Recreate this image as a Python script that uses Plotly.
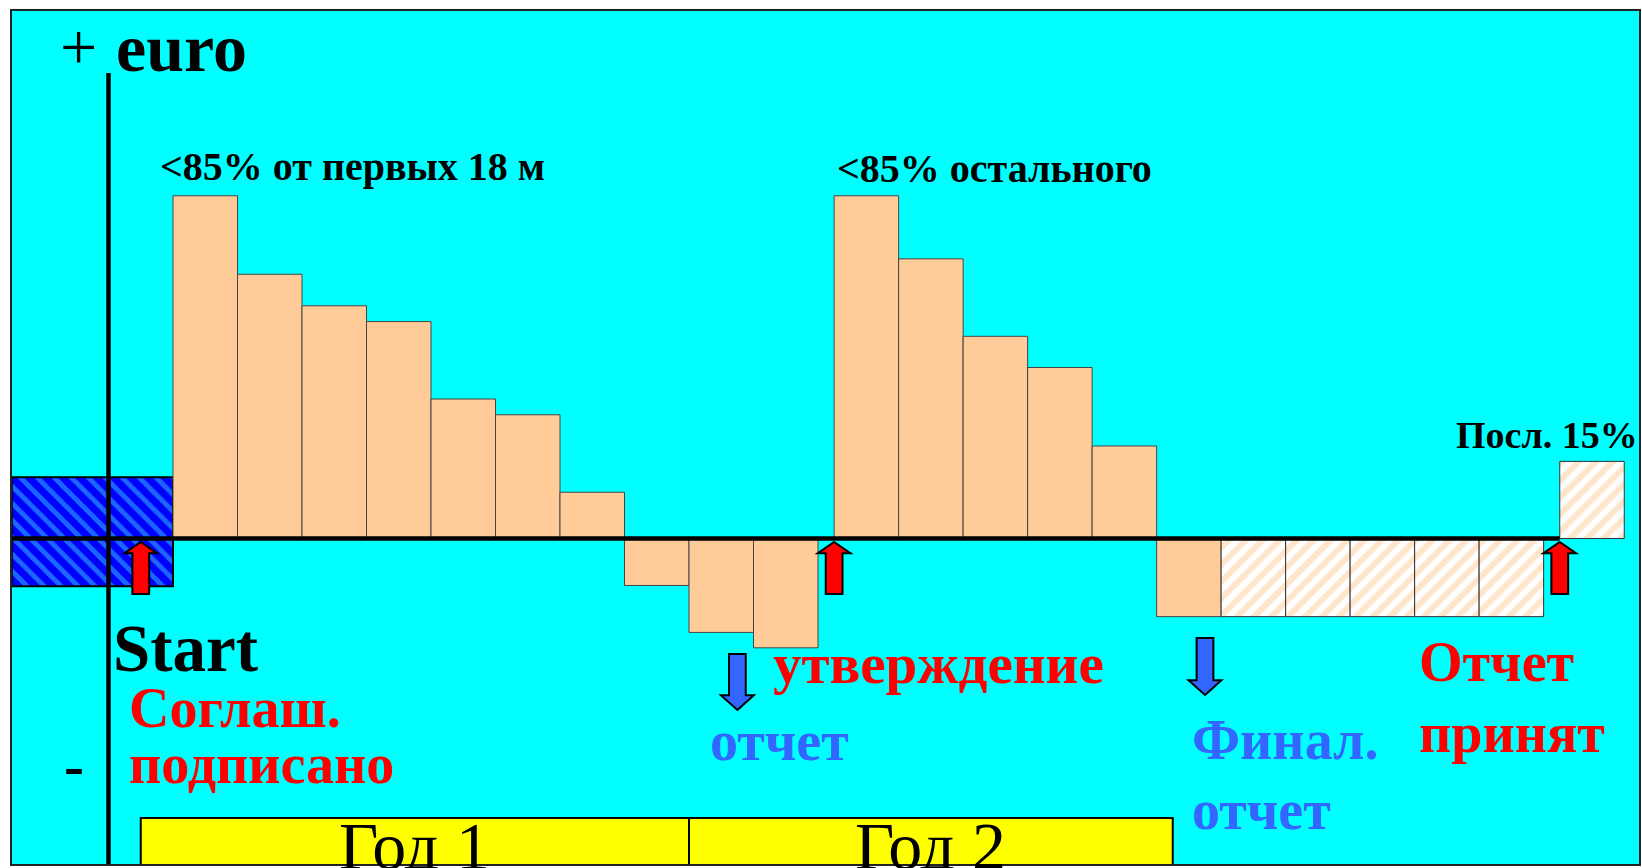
import plotly.graph_objects as go

# ---------------- data (values in relative euro units, 100 = largest payment) ----------------
PREFINANCE = [17.9, -13.9]                      # pre-financing block around "Start"
PHASE1 = [100, 77.1, 67.9, 63.3, 40.7, 36.1, 13.5, -13.7, -27.4, -31.9]   # first 10 periods
PHASE2 = [100, 81.6, 59.0, 49.9, 27.0, -22.8]   # after approval
PHASE2_FORECAST = [-22.8, -22.8, -22.8, -22.8, -22.8]   # hatched (forecast) periods
FINAL = [22.5]                                  # last 15 %
YEARS = ["Год 1", "Год 2"]

# ---------------- geometry of the slide ----------------
W, H = 1642, 868
PL, PR, PT, PB = 11, 1640, 10, 865          # plot-area box in pixels
UNIT = 64.5                                  # px per period
BAR0_LEFT = 173                              # px of left edge of first bar
ZERO_PX = 538.5
YPX = 3.427                                  # px per value unit
GAP = 0.25

X0 = -0.5 - (BAR0_LEFT - PL) / UNIT
X1 = X0 + (PR - PL) / UNIT
Y1 = (ZERO_PX - PT) / YPX
Y0 = -(PB - ZERO_PX) / YPX


def dx(px):
    return X0 + (px - PL) / UNIT


def dy(py):
    return (ZERO_PX - py) / YPX


# x positions
x_phase1 = list(range(len(PHASE1)))
start2 = len(PHASE1) - 0.5 + GAP + 0.5
x_phase2 = [start2 + i for i in range(len(PHASE2))]
x_fore = [x_phase2[-1] + 1 + i for i in range(len(PHASE2_FORECAST))]
x_final = [x_fore[-1] + 1 + GAP]
x_pre = [-1.75, -1.75]

PEACH = "#FFCC99"
fig = go.Figure()

fig.add_trace(go.Bar(
    x=x_pre, y=PREFINANCE, width=2.5,
    marker=dict(color="#0000FF", line=dict(color="black", width=2),
                pattern=dict(shape="\\", bgcolor="#0000FF", fgcolor="#33CCFF",
                             size=12, solidity=0.4)),
    hoverinfo="skip"))

fig.add_trace(go.Bar(
    x=x_phase1 + x_phase2, y=PHASE1 + PHASE2, width=1,
    marker=dict(color=PEACH, line=dict(color="#444444", width=1)),
    hoverinfo="skip"))

fig.add_trace(go.Bar(
    x=x_fore + x_final, y=PHASE2_FORECAST + FINAL, width=1,
    marker=dict(color="white", line=dict(color="#333333", width=1),
                pattern=dict(shape="/", bgcolor="white", fgcolor=PEACH,
                             size=12, solidity=0.5)),
    hoverinfo="skip"))

shapes = []
# zero line
shapes.append(dict(type="line", xref="x", yref="y", x0=X0, x1=x_final[0] - 0.5,
                   y0=0, y1=0, line=dict(color="black", width=4.5), layer="above"))
# vertical euro axis
shapes.append(dict(type="line", xref="x", yref="y", x0=-1.5, x1=-1.5,
                   y0=dy(73), y1=Y0, line=dict(color="black", width=4.5), layer="above"))


def arrow(xc, y_tip, y_end, color, up=True):
    hw_shaft, hw_head = 0.13, 0.255
    head = 3.3 if up else 4.3
    s = 1 if up else -1
    yb = y_tip - s * head
    p = (f"M {xc} {y_tip} L {xc + hw_head} {yb} L {xc + hw_shaft} {yb} "
         f"L {xc + hw_shaft} {y_end} L {xc - hw_shaft} {y_end} L {xc - hw_shaft} {yb} "
         f"L {xc - hw_head} {yb} Z")
    return dict(type="path", xref="x", yref="y", path=p, fillcolor=color,
                line=dict(color="black", width=2), layer="above")


tip = dy(542)
bot = dy(594)
shapes.append(arrow(-1.0, tip, bot, "#FF0000"))
shapes.append(arrow(x_phase2[0] - 0.5, tip, bot, "#FF0000"))
shapes.append(arrow(x_final[0] - 0.5, tip, bot, "#FF0000"))
shapes.append(arrow(x_phase1[8] + 0.25, dy(710), dy(654), "#3366FF", up=False))
shapes.append(arrow(x_fore[0] - 1 + 0.25, dy(695), dy(638), "#3366FF", up=False))

# year band
yb_top = dy(818)
shapes.append(dict(type="rect", xref="x", yref="y", x0=-1.0, x1=7.5, y0=Y0, y1=yb_top,
                   fillcolor="#FFFF00", line=dict(color="black", width=2), layer="above"))
shapes.append(dict(type="rect", xref="x", yref="y", x0=7.5, x1=15.0, y0=Y0, y1=yb_top,
                   fillcolor="#FFFF00", line=dict(color="black", width=2), layer="above"))
# slide border
shapes.append(dict(type="rect", xref="paper", yref="paper", x0=0, x1=1, y0=0, y1=1,
                   line=dict(color="#222222", width=2), layer="above"))

FONT = "Liberation Serif, Times New Roman, serif"
annotations = []


def txt(text, left_px, mid_px, size, color="black", bold=True, anchor="left"):
    annotations.append(dict(
        text=text, x=dx(left_px), y=dy(mid_px), xref="x", yref="y",
        xanchor=anchor, yanchor="middle", showarrow=False,
        font=dict(family=FONT, size=size, color=color,
                  weight="bold" if bold else "normal")))


txt("+", 58, 46, 66, bold=False)
txt("euro", 114, 48, 68)
txt("&lt;85% от первых 18 м", 158, 166, 40)
txt("&lt;85% остального", 835, 168, 40)
txt("Посл. 15%", 1454, 435, 38)
txt("Start", 111, 648, 67)
txt("Соглаш.", 127, 708, 56, "#FF0000")
txt("подписано", 127, 764, 56, "#FF0000")
txt("утверждение", 771, 663, 57, "#FF0000")
txt("отчет", 708, 741, 56, "#3366FF")
txt("Финал.", 1190, 740, 56, "#3366FF")
txt("отчет", 1190, 810, 56, "#3366FF")
txt("Отчет", 1417, 662, 56, "#FF0000")
txt("принят", 1417, 733, 56, "#FF0000")
txt("-", 62, 765, 60)

for i, (a, b) in enumerate([(-1.0, 7.5), (7.5, 15.0)]):
    annotations.append(dict(
        text=YEARS[i], x=(a + b) / 2, y=dy(806), xref="x", yref="y",
        xanchor="center", yanchor="top", showarrow=False,
        font=dict(family=FONT, size=68, color="black")))

fig.update_layout(
    width=W, height=H,
    margin=dict(l=PL, r=W - PR, t=PT, b=H - PB, pad=0),
    paper_bgcolor="white", plot_bgcolor="#00FFFF",
    barmode="overlay", showlegend=False,
    xaxis=dict(range=[X0, X1], visible=False, fixedrange=True),
    yaxis=dict(range=[Y0, Y1], visible=False, fixedrange=True),
    shapes=shapes, annotations=annotations,
)

fig.write_html("out.html", config={"displayModeBar": False},
               post_script="document.body.style.margin='0';document.body.style.overflow='hidden';")
